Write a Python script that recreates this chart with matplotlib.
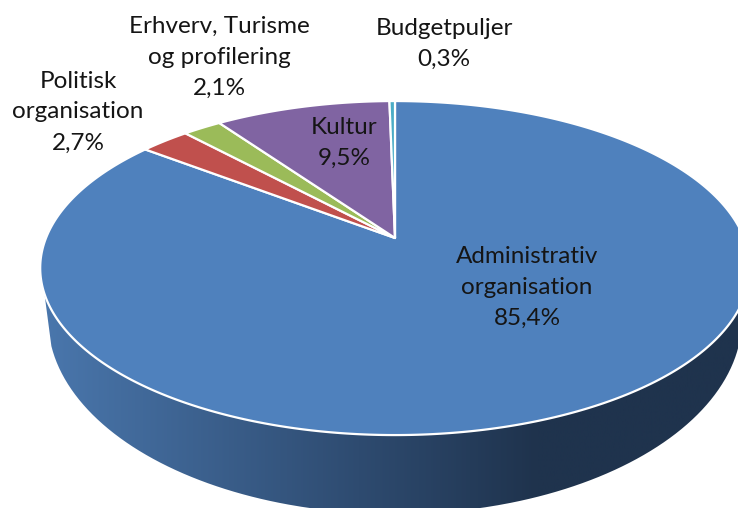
import numpy as np
import matplotlib
matplotlib.use('Agg')
import matplotlib.pyplot as plt
from matplotlib.patches import Polygon, PathPatch
from matplotlib.path import Path
from matplotlib.colors import LinearSegmentedColormap

# shares in percent, clockwise from 12 o'clock
labels = ['Administrativ\norganisation\n85,4%', 'Politisk\norganisation\n2,7%',
          'Erhverv, Turisme\nog profilering\n2,1%', 'Kultur\n9,5%', 'Budgetpuljer\n0,3%']
values = [85.4, 2.7, 2.1, 9.5, 0.3]
colors = ['#4f81bd', '#c0504d', '#9bbb59', '#8064a2', '#4bacc6']
label_xy = [(527, 287), (78, 112), (219, 57), (344, 143), (444, 44)]

plt.rcParams['font.family'] = ['Lato', 'DejaVu Sans']

# pie apex + perspective squash
cx, cy = 395, 238
a, b, k = 349, 161.6, 0.18


def project(theta):
    u = np.sin(theta)
    v = np.cos(theta)
    den = 1 + k * v
    return np.column_stack((cx + a * u / den, cy - b * v / den))


fig = plt.figure(figsize=(7.38, 5.08), dpi=100)
ax = fig.add_axes([0, 0, 1, 1])

# side wall: front of the rim, then the lower edge back again
t = np.radians(np.linspace(109, 251, 300))
top = project(t)
t2 = np.radians(np.linspace(98, 262, 300))
low = np.column_stack((cx + 347 * np.sin(t2), 319 - 195 * np.cos(t2)))
wall = np.vstack((top, low[::-1]))
cmap = LinearSegmentedColormap.from_list('wall', [(0, '#4a77ad'), (0.45, '#2e4b70'), (0.7, '#1f334d'), (1, '#1f334d')])
im = ax.imshow(np.linspace(0, 1, 256)[None, :], extent=(40, 750, 530, 150), cmap=cmap,
               aspect='auto', zorder=1)
ax.set_xlim(0, 738)
ax.set_ylim(508, 0)
ax.axis('off')
im.set_clip_path(PathPatch(Path(wall), transform=ax.transData))

# top face
edges = np.radians(np.cumsum([0] + values) * 3.6)
for i, val in enumerate(values):
    th = np.linspace(edges[i], edges[i + 1], max(3, int(val * 6)))
    pts = np.vstack(([[cx, cy]], project(th)))
    ax.add_patch(Polygon(pts, closed=True, facecolor=colors[i], edgecolor='white',
                         linewidth=1.6, joinstyle='round', zorder=2))

for (x, y), txt in zip(label_xy, labels):
    ax.text(x, y, txt, ha='center', va='center', fontsize=17.5, color='#151515',
            linespacing=1.58, zorder=3)

fig.savefig('out.png', dpi=100)
